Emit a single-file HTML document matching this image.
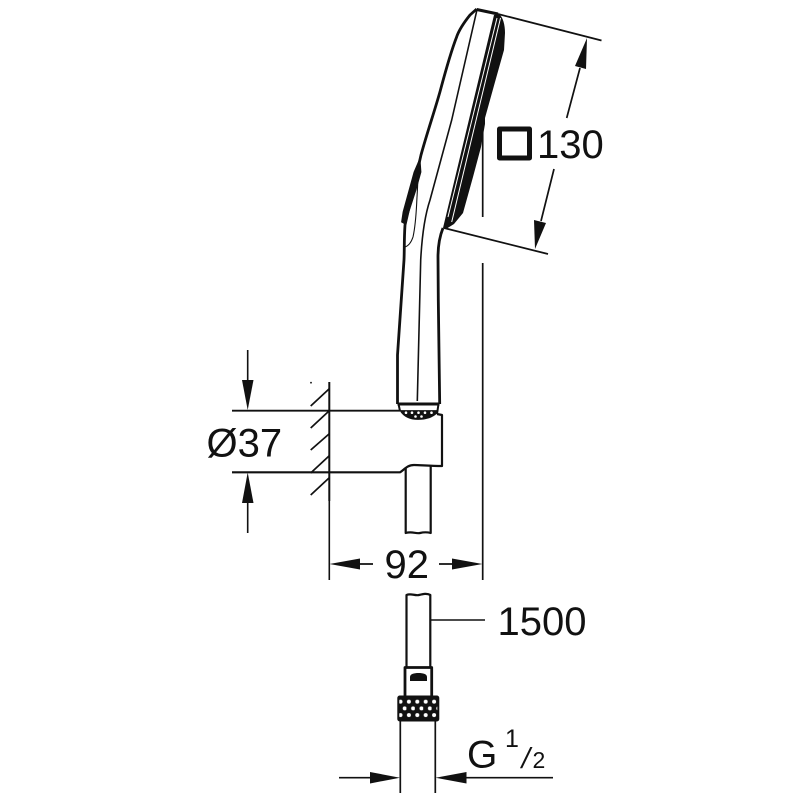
<!DOCTYPE html>
<html>
<head>
<meta charset="utf-8">
<style>
html,body{margin:0;padding:0;background:#fff}
svg{display:block}
text{font-family:"Liberation Sans",sans-serif;fill:#111}
</style>
</head>
<body>
<svg width="800" height="800" viewBox="0 0 800 800" xmlns="http://www.w3.org/2000/svg">
<defs>
<pattern id="knurl" width="8.4" height="13.4" patternUnits="userSpaceOnUse" patternTransform="translate(398 699.7)">
<rect width="8.4" height="13.4" fill="#111"/>
<circle cx="2.5" cy="2" r="2" fill="#fff"/>
<circle cx="6.7" cy="8.7" r="2" fill="#fff"/>
</pattern>
</defs>
<!-- black face mass -->
<path d="M494 15 L499 14 C503 17 505 25 505 33 L504 50 L495 82 L485 118 L485 124 L481 147 L473 177 L463 213 L454 224 L446 229 L443 228 Z" fill="#111"/>
<path d="M497 18 L448 217 M500.5 18 L451.7 222" fill="none" stroke="#fff" stroke-width="1"/>
<g fill="none" stroke="#111" stroke-linecap="butt" stroke-linejoin="round">
<!-- handle outer back -->
<path d="M476.7 9 L470 15 C462 25 458 33 456.7 36.7 C450 54 445 73 440 91.7 C434 113 427 133 421 155 L405 225 C404 240 404.5 250 404 260 L397.5 355 V404" stroke-width="2.8"/>
<!-- inner centre line -->
<path d="M476.7 11 L451.7 120 L430 200 C425 215 422 235 420.7 260 L417.3 401" stroke-width="1.6"/>
<!-- front handle -->
<path d="M443 228 C439 238 438 248 438 257 L438.3 300 L439.7 404" stroke-width="2.8"/>
<!-- head top + extension -->
<path d="M476.7 9.5 L498 14" stroke-width="3"/>
<path d="M498 14 L601.5 40.5" stroke-width="1.7"/>
<!-- lower dimension extension -->
<path d="M444 228 L548 254" stroke-width="1.7"/>
<!-- side button -->
<path d="M420 158 L421 172 L416 190 L405 224 L401.5 222 L403 212 L414 172 Z" fill="#111" stroke-width="0.8"/>
<path d="M418 170 C418 185 417 195 416.7 203 C416 217 415 228 413 237 C411 243 408 246 405 247" stroke-width="1.1"/>
<!-- centre line -->
<path d="M482.7 132 V217 M482.7 263 V580" stroke-width="1.7"/>
<!-- collar -->
<path d="M397.5 404 H439.5" stroke-width="3"/>
<path d="M398.5 404 L400 411 M438.5 404 L437 414" stroke-width="2"/>
<!-- bracket -->
<path d="M232 410.7 H400" stroke-width="1.8"/>
<path d="M232 472.3 H400 C404 470 407 465 414 465 C420 465 430 466 442 466 V415 L437 414" stroke-width="2.2"/>
<path d="M400 410.5 C404 417 410 419.5 418 419.5 C426 419.5 433 417 437 413 L437 410.5 Z" fill="#111" stroke-width="0.8"/>
<!-- hose upper -->
<path d="M405.7 468 V533 C412 531 416 534 420 533 C424 532 427 532 430.7 533 V466" stroke-width="2.2"/>
<!-- wall -->
<path d="M329.3 382 V501" stroke-width="2"/>
<path d="M329.3 501 V580" stroke-width="1.6"/>
<path d="M329 389 L310.7 406 M329 411 L310.7 428 M329 434 L310.7 450 M329 456 L310.7 473 M329 478 L310.7 495" stroke-width="1.7"/>
<!-- diameter arrow shafts -->
<path d="M247.7 350 V381 M247.7 502 V533" stroke-width="1.6"/>
<!-- 130 arrow shafts -->
<path d="M580 68 L566.7 118 M554 169 L541 221" stroke-width="1.7"/>
<!-- 92 shafts -->
<path d="M360 564 H373 M439 564 H452" stroke-width="1.7"/>
<!-- hose lower -->
<path d="M406.5 667 V595 C411 593 415 596 419 595 C423 594 427 593 430.3 595 V667" stroke-width="2.2"/>
<path d="M431 620 H485" stroke-width="1.6"/>
<path d="M405 696 V667.5 H431.7 V696" stroke-width="2.8"/>
<path d="M400.3 720 V793 M435.3 720 V793" stroke-width="1.7"/>
<path d="M339 777.7 H371 M466 777.7 H553" stroke-width="1.7"/>
<rect x="499.5" y="129" width="30" height="29" stroke-width="5"/>
</g>
<!-- collar dots -->
<g fill="#fff">
<circle cx="406" cy="412.7" r="1.3"/><circle cx="412" cy="412.7" r="1.3"/><circle cx="418.5" cy="412.7" r="1.3"/><circle cx="425" cy="412.7" r="1.3"/><circle cx="431.5" cy="412.7" r="1.3"/>
<circle cx="415.5" cy="416.5" r="1.3"/><circle cx="421.5" cy="416.5" r="1.3"/>
</g>
<!-- arrowheads -->
<g fill="#111">
<polygon points="587,38 575,66 586,69"/>
<polygon points="535,249 534,220 546,223"/>
<polygon points="247.7,410 242,380 253.5,380"/>
<polygon points="247.7,472.5 242,503 253.5,503"/>
<polygon points="329.5,564 360,558.5 360,569.5"/>
<polygon points="482.5,564 452,558.5 452,569.5"/>
<polygon points="400,777.7 370,772 370,783.5"/>
<polygon points="435.5,777.7 466.5,772 466.5,783.5"/>
<path d="M410 681 V677 C410 674 414 673 418.5 673 C423 673 427 674 427 677 V681 Z"/>
</g>
<rect x="398.3" y="696.5" width="40" height="24" rx="1.5" fill="url(#knurl)" stroke="#111" stroke-width="2"/>
<circle cx="311" cy="382.7" r="0.9" fill="#111"/>
<!-- labels -->
<text x="537" y="158" font-size="40">130</text>
<text x="206.5" y="456.5" font-size="40">Ø37</text>
<text x="384.5" y="578" font-size="40">92</text>
<text x="497.5" y="635" font-size="40">1500</text>
<text x="467" y="767.5" font-size="39">G</text>
<text x="505" y="747" font-size="25">1</text>
<text transform="translate(520 768) skewX(-12)" font-size="29">/</text>
<text x="532.5" y="768" font-size="23">2</text>
</svg>
</body>
</html>
